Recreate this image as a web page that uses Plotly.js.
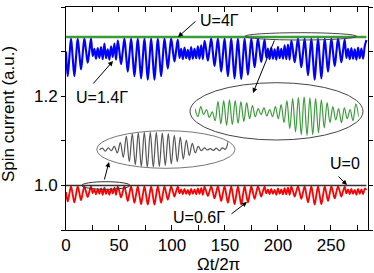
<!DOCTYPE html>
<html>
<head>
<meta charset="utf-8">
<script src="https://cdn.plot.ly/plotly-3.0.1.min.js"></script>
<style>html,body{margin:0;padding:0;background:#fff;}#chart{width:374px;height:273px;}</style>
</head>
<body>
<div id="chart"></div>
<script>
// time step of samples (Ωt/2π units)
const dt = 1.575;

// U = 1.4Γ (blue)
const blueU14 = [
1.300,1.245,1.287,1.329, 1.287,1.245,1.287,1.329, 1.295,1.260,1.295,1.329, 1.302,1.275,1.302,1.329,
1.290,1.306,1.284,1.308, 1.286,1.310,1.283,1.318, 1.285,1.305,1.282,1.312, 1.288,1.318,1.282,1.325,
1.300,1.272,1.300,1.329, 1.292,1.255,1.292,1.329, 1.287,1.245,1.287,1.329, 1.285,1.240,1.285,1.329,
1.283,1.237,1.283,1.329, 1.283,1.237,1.283,1.329, 1.287,1.245,1.287,1.329, 1.296,1.262,1.296,1.329,
1.303,1.278,1.303,1.327, 1.286,1.306,1.283,1.309, 1.285,1.304,1.282,1.310, 1.284,1.306,1.285,1.312,
1.284,1.314,1.283,1.324, 1.304,1.280,1.304,1.329, 1.298,1.268,1.298,1.329, 1.292,1.255,1.292,1.329,
1.287,1.245,1.287,1.329, 1.285,1.240,1.285,1.329, 1.283,1.238,1.283,1.329, 1.288,1.248,1.288,1.329,
1.297,1.265,1.297,1.329, 1.303,1.277,1.303,1.327, 1.286,1.307,1.283,1.309, 1.284,1.305,1.282,1.311,
1.285,1.306,1.284,1.314, 1.283,1.316,1.282,1.325, 1.302,1.276,1.302,1.329, 1.297,1.265,1.297,1.329,
1.288,1.247,1.288,1.329, 1.283,1.237,1.283,1.329, 1.285,1.240,1.285,1.329, 1.292,1.255,1.292,1.329,
1.298,1.268,1.298,1.329, 1.302,1.276,1.302,1.327, 1.286,1.306,1.283,1.308, 1.284,1.305,1.282,1.309,
1.285,1.307,1.284,1.312, 1.326
];

// U = 0.6Γ (red)
const redU06 = [
0.985,0.964,0.981,0.998, 0.980,0.962,0.980,0.998, 0.983,0.967,0.983,0.998, 0.986,0.974,0.986,0.998,
0.983,0.991,0.980,0.992, 0.981,0.993,0.979,0.995, 0.981,0.991,0.979,0.993, 0.982,0.995,0.979,0.997,
0.986,0.973,0.986,0.998, 0.982,0.965,0.982,0.998, 0.980,0.961,0.980,0.998, 0.978,0.958,0.978,0.998,
0.978,0.957,0.978,0.998, 0.978,0.957,0.978,0.998, 0.980,0.961,0.980,0.998, 0.983,0.968,0.983,0.998,
0.987,0.975,0.987,0.997, 0.982,0.991,0.980,0.992, 0.981,0.990,0.979,0.992, 0.981,0.991,0.980,0.993,
0.981,0.994,0.979,0.997, 0.987,0.976,0.987,0.998, 0.985,0.971,0.985,0.998, 0.982,0.965,0.982,0.998,
0.980,0.961,0.980,0.998, 0.978,0.958,0.978,0.998, 0.978,0.957,0.978,0.998, 0.980,0.962,0.980,0.998,
0.984,0.970,0.984,0.998, 0.987,0.975,0.987,0.997, 0.982,0.991,0.980,0.992, 0.981,0.990,0.979,0.993,
0.981,0.991,0.980,0.994, 0.980,0.995,0.979,0.997, 0.987,0.975,0.987,0.998, 0.984,0.970,0.984,0.998,
0.980,0.962,0.980,0.998, 0.978,0.957,0.978,0.998, 0.978,0.958,0.978,0.998, 0.982,0.965,0.982,0.998,
0.985,0.971,0.985,0.998, 0.987,0.975,0.987,0.997, 0.982,0.991,0.980,0.992, 0.981,0.990,0.979,0.992,
0.981,0.991,0.980,0.993, 0.990
];

// U = 4Γ (green) and U = 0 (black): nearly constant
const greenU4 = [1.333,1.333,1.333,1.333,1.333,1.333,1.333,1.333,1.333,1.333];
const blackU0 = [1.000,1.000,1.000,1.000,1.000,1.000,1.000,1.000,1.000,1.000];
const flatStep = 31.5;

// magnified segments shown in the insets (relative units)
const greenZoom = [0.70,0.50,0.75,0.55,0.68,0.48,0.62,0.40,0.88,0.32,0.90,0.28,0.92,0.30,0.90,0.33,
0.88,0.38,0.85,0.45,0.78,0.50,0.70,0.55,0.72,0.52,0.68,0.50,0.75,0.45,0.80,0.35,0.90,0.20,0.95,0.12,
0.98,0.05,1.00,0.03,0.97,0.05,0.95,0.10,0.92,0.22,0.85,0.35,0.75,0.42,0.70,0.35,0.72,0.45,0.68,0.40,0.82,0.50];
const grayZoom = [0.50,0.55,0.47,0.56,0.48,0.60,0.42,0.70,0.30,0.88,0.18,0.95,0.10,0.97,0.05,0.98,
0.03,0.98,0.03,0.98,0.05,0.96,0.08,0.95,0.12,0.90,0.18,0.85,0.25,0.77,0.35,0.68,0.42,0.60,0.48,0.56,
0.50,0.54,0.49,0.55,0.48,0.56,0.52,0.75];

const xTickVals = [0,50,100,150,200,250];
const yTickVals = [1.0,1.2,1.4];

const FONT = 'Liberation Sans, Arial, sans-serif';
const px = v => (v-66)/302;      // helper for paper x from pixel
const py = v => (230-v)/223;     // helper for paper y from pixel

const traces = [
  {x0:0, dx:dt, y:redU06, type:'scatter', mode:'lines', line:{color:'#ff0000', width:1.8, shape:'spline', smoothing:1}, xaxis:'x', yaxis:'y'},
  {x0:0, dx:flatStep, y:blackU0, type:'scatter', mode:'lines', line:{color:'#333333', width:1.5}, xaxis:'x', yaxis:'y'},
  {x0:0, dx:dt, y:blueU14, type:'scatter', mode:'lines', line:{color:'#0000ff', width:2.1, shape:'spline', smoothing:1}, xaxis:'x', yaxis:'y'},
  {x0:0, dx:flatStep, y:greenU4, type:'scatter', mode:'lines', line:{color:'#3c9c3c', width:2.5}, xaxis:'x', yaxis:'y'},
  {x0:0, dx:1, y:greenZoom, type:'scatter', mode:'lines', line:{color:'#3c9c3c', width:1.2, shape:'spline', smoothing:1}, xaxis:'x2', yaxis:'y2'},
  {x0:0, dx:1, y:grayZoom, type:'scatter', mode:'lines', line:{color:'#555555', width:1.2, shape:'spline', smoothing:1}, xaxis:'x3', yaxis:'y3'}
];

const arrow = (hx, hy, tx, ty) => ({
  x:px(hx), y:py(hy), xref:'paper', yref:'paper', text:'', showarrow:true,
  ax:tx-hx, ay:ty-hy, arrowhead:2, arrowsize:1, arrowwidth:1, arrowcolor:'#000'
});
const label = (t, cx, cy) => ({
  x:px(cx), y:py(cy), xref:'paper', yref:'paper', text:t, showarrow:false,
  xanchor:'center', yanchor:'middle', font:{family:FONT, size:16, color:'#000'}
});

const layout = {
  width:374, height:273,
  margin:{l:66, r:6, t:7, b:43},
  paper_bgcolor:'#fff', plot_bgcolor:'#fff',
  showlegend:false,
  xaxis:{range:[0,285], tickvals:xTickVals, ticks:'inside', ticklen:5, tickwidth:1, tickcolor:'#000',
         minor:{dtick:25, tick0:0, ticks:'inside', ticklen:5, tickcolor:'#000'},
         showline:true, linecolor:'#000', linewidth:1, mirror:'ticks', showgrid:false, zeroline:false,
         tickfont:{family:FONT, size:17, color:'#000'}},
  yaxis:{range:[0.9,1.4], tickvals:yTickVals, tickformat:'.1f', ticks:'outside', ticklen:4, tickwidth:1, tickcolor:'#000',
         minor:{dtick:0.1, tick0:0.9, ticks:'outside', ticklen:4, tickcolor:'#000'},
         showline:true, linecolor:'#000', linewidth:1, mirror:'ticks', showgrid:false, zeroline:false,
         tickfont:{family:FONT, size:17, color:'#000'}},
  xaxis2:{domain:[px(195), px(358.7)], range:[0,57], anchor:'y2', visible:false},
  yaxis2:{domain:[py(136.7), py(96.7)], range:[0,1], anchor:'x2', visible:false},
  xaxis3:{domain:[px(99.3), px(228.3)], range:[0,43], anchor:'y3', visible:false},
  yaxis3:{domain:[py(168.3), py(131.7)], range:[0,1], anchor:'x3', visible:false},
  shapes:[
    {type:'circle', xref:'paper', yref:'paper', x0:px(190), x1:px(363), y0:py(140), y1:py(82.7), line:{color:'#444', width:1}},
    {type:'circle', xref:'paper', yref:'paper', x0:px(96.7), x1:px(235), y0:py(168.3), y1:py(130.7), line:{color:'#777', width:1}},
    {type:'circle', xref:'paper', yref:'paper', x0:px(81.7), x1:px(130), y0:py(189.3), y1:py(181.7), line:{color:'#333', width:1}},
    {type:'circle', xref:'paper', yref:'paper', x0:px(245), x1:px(356.7), y0:py(40), y1:py(32.7), line:{color:'#444', width:1}}
  ],
  annotations:[
    arrow(253,93,275,39),
    arrow(109,162,104,181),
    arrow(178,37,197,20),
    arrow(113,61,92,85),
    arrow(347,185,337,175),
    arrow(247,202,230,215),
    label('U=4Γ', 219, 21),
    label('U=1.4Γ', 102, 97),
    label('U=0', 345, 163),
    label('U=0.6Γ', 199, 217),
    {x:px(8), y:py(114), xref:'paper', yref:'paper', text:'Spin current (a.u.)', textangle:-90, showarrow:false,
     xanchor:'center', yanchor:'middle', font:{family:FONT, size:17, color:'#000'}},
    {x:px(218), y:py(264), xref:'paper', yref:'paper', text:'Ωt/2π', showarrow:false,
     xanchor:'center', yanchor:'middle', font:{family:FONT, size:17, color:'#000'}}
  ]
};

Plotly.newPlot('chart', traces, layout, {staticPlot:true, displayModeBar:false});
</script>
</body>
</html>
